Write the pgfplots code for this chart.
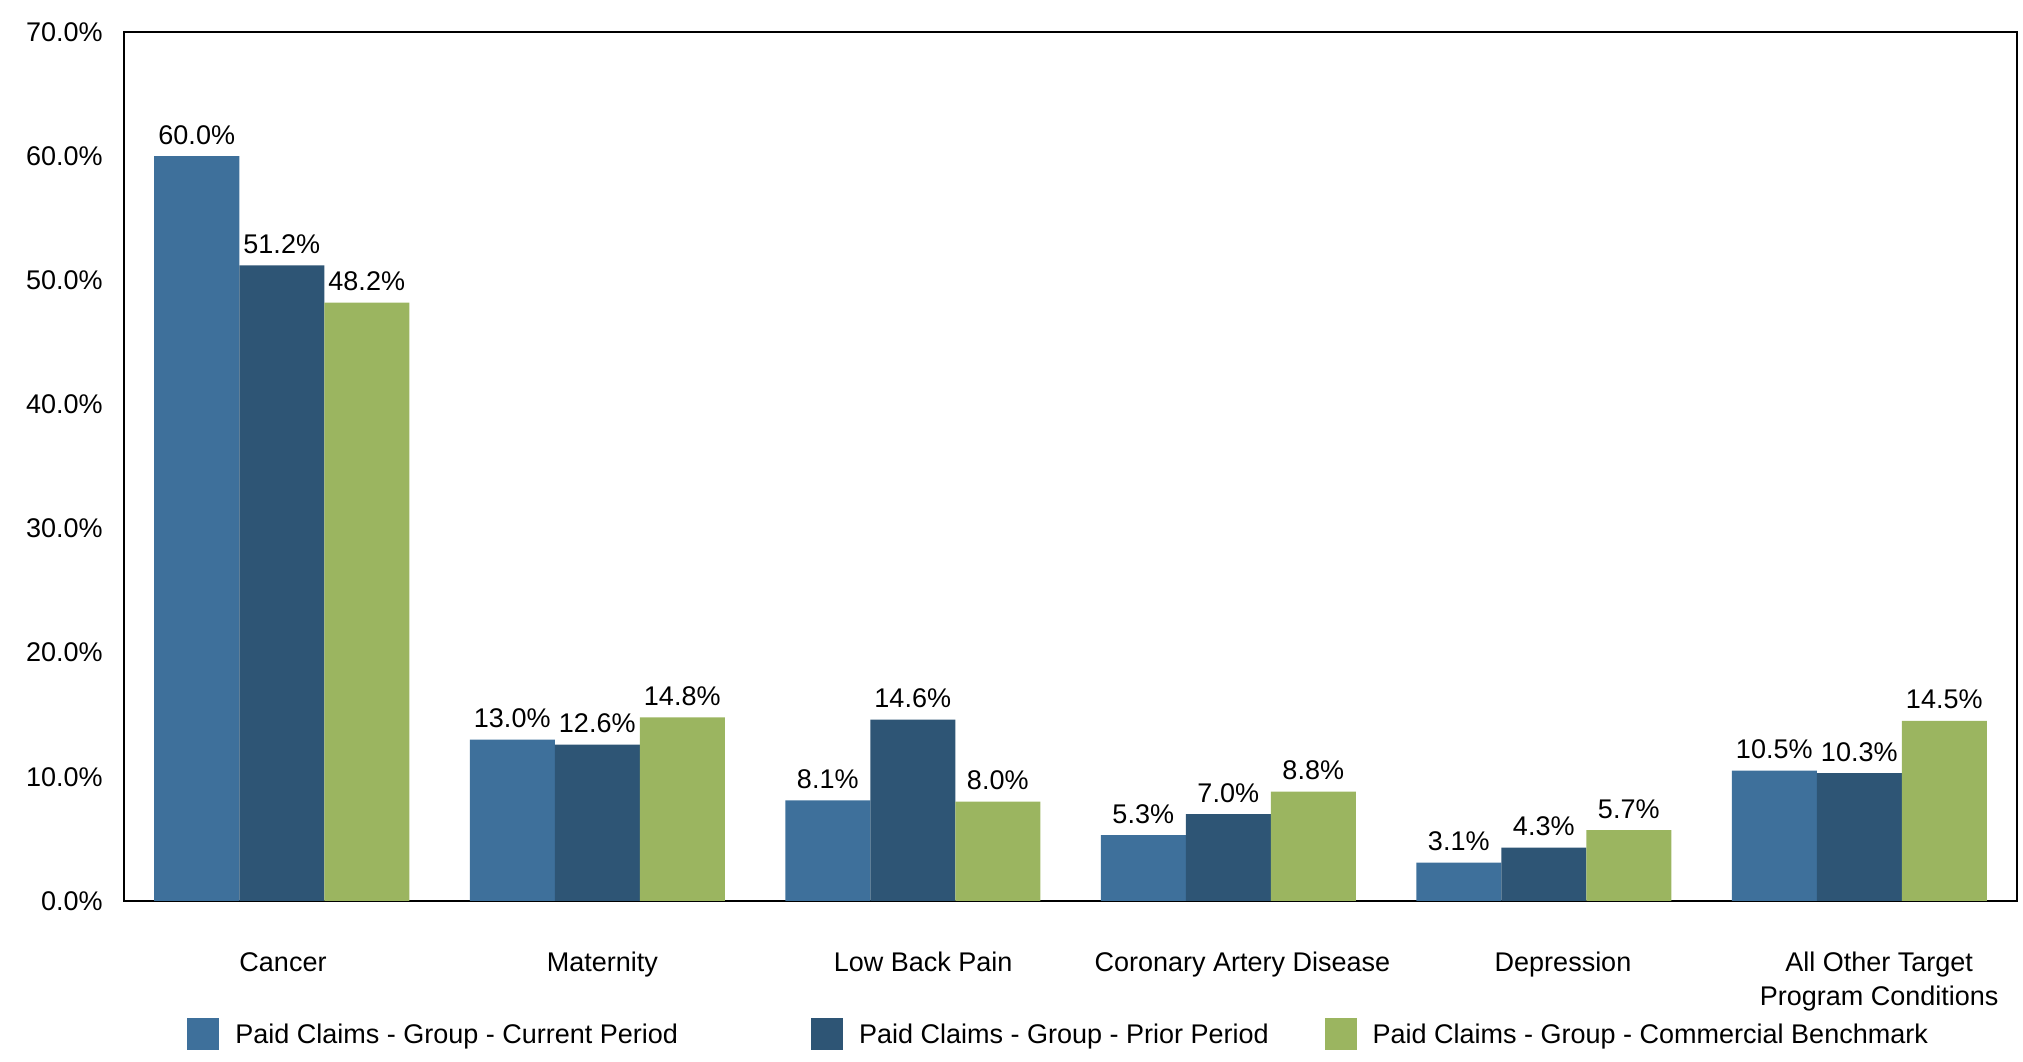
\documentclass[border=0pt]{standalone}
\usepackage{pgfplots}
\pgfplotsset{compat=1.18}
\usetikzlibrary{calc}
\usepackage{fontspec}
\setmainfont{Liberation Sans}
\definecolor{cur}{RGB}{62,112,155}
\definecolor{pri}{RGB}{46,85,117}
\definecolor{ben}{RGB}{155,181,96}
\begin{document}
\begin{tikzpicture}[font=\fontsize{13.5}{16.8}\selectfont]
\begin{axis}[name=ax, scale only axis, width=946.5pt, height=434.5pt,
  ymin=0, ymax=70, xmin=-0.5, xmax=5.5,
  ybar=0pt, bar width=42.5pt,
  ytick={0,10,...,70},
  yticklabel={\pgfmathprintnumber[fixed,fixed zerofill,precision=1]{\tick}\%},
  /pgf/number format/assume math mode=true,
  yticklabel style={inner sep=0pt, anchor=east, xshift=-10.5pt},
  xtick={0.004,1.016,2.033,3.045,4.061,5.063},
  xticklabels={Cancer, Maternity, Low Back Pain, Coronary Artery Disease, Depression, {All Other Target\\Program Conditions}},
  xticklabel style={align=center, inner sep=0pt, anchor=north, yshift=-25.5pt},
  major tick length=0pt,
  axis line style={line width=1pt},
  nodes near coords={\pgfmathprintnumber[fixed,fixed zerofill,precision=1]{\pgfplotspointmeta}\%},
  every node near coord/.append style={text=black, anchor=base, inner sep=0pt, yshift=6pt},
  legend columns=3,
  legend image code/.code={\fill[#1] (0pt,-7.5pt) rectangle (16pt,8.5pt);},
  legend style={draw=none, inner sep=0pt, at={(0.0333,-0.153)}, anchor=west,
    nodes={inner sep=0pt},
    /tikz/every odd column/.append style={column sep=8pt},
    /tikz/column 2/.style={column sep=66.5pt},
    /tikz/column 4/.style={column sep=28pt}},
]
\addplot[fill=cur, draw=none] coordinates {(0,60.0) (1,13.0) (2,8.1) (3,5.3) (4,3.1) (5,10.5)};
\addplot[fill=pri, draw=none] coordinates {(0,51.2) (1,12.6) (2,14.6) (3,7.0) (4,4.3) (5,10.3)};
\addplot[fill=ben, draw=none] coordinates {(0,48.2) (1,14.8) (2,8.0) (3,8.8) (4,5.7) (5,14.5)};
\legend{Paid Claims - Group - Current Period, Paid Claims - Group - Prior Period, Paid Claims - Group - Commercial Benchmark}
\end{axis}
\pgfresetboundingbox
\useasboundingbox ($(ax.south west)+(-62pt,-80.5pt)$) rectangle ($(ax.north east)+(3pt,16pt)$);
\end{tikzpicture}
\end{document}
